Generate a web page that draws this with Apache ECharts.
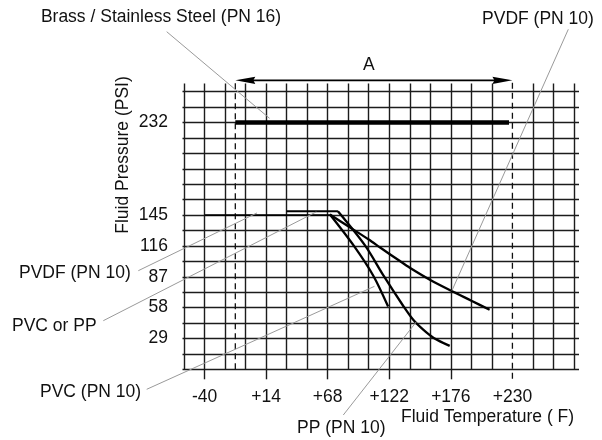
<!DOCTYPE html>
<html><head><meta charset="utf-8">
<script src="https://cdn.jsdelivr.net/npm/echarts@6/dist/echarts.min.js"></script>
<style>html,body{margin:0;padding:0;background:#fff}#c{width:602px;height:440px}</style>
</head><body><div id="c"></div>
<script>
// ---- data ----
const tempTickLabels = [-40, 14, 68, 122, 176, 230];
const tempMajorTicks = [-40, 14, 68, 122, 176];
const pressureTickLabels = [29, 58, 87, 116, 145, 232];
const tempRange = [-58, 284];
const tempStep = 18;
const pressureRange = [0, 261];
const pressureStep = 14.5;
const rangeA = [-13, 230];
const rangeATop = 272;
const rangeAArrow = 271.7;
const brass = [[-13, 232], [227, 232]];
const pvdfFlat = [[-40, 145], [70, 145]];
const pvdfCurve = [[70, 145.5], [86, 134.5], [104, 122], [114, 114.5], [131, 102], [140, 95.5], [158, 84], [176, 74], [194, 64.5], [210, 56]];
const pvcPpFlat = [[32, 148.5], [77, 148.5]];
const ppCurve = [[77, 148.5], [101, 116], [117, 88], [134, 60], [143, 46.5], [152, 37], [161, 29.5], [175, 22]];
const pvcLine = [[70, 145.5], [91, 116], [108, 88], [121, 59]];
const annotationTexts = ['Brass / Stainless Steel (PN 16)', 'PVDF (PN 10)', 'PVDF (PN 10)', 'PVC or PP', 'PVC (PN 10)', 'PP (PN 10)'];
const annotationAnchors = [[17, 236], [177, 74], [6, 147], [58, 148], [109, 78], [146, 45]];

// ---- layout (pixels) ----
const annotationLayout = [
  {tx: 161, ty: 17, align: 'center', lx: 166.7, ly: 31.7},
  {tx: 538, ty: 19, align: 'center', lx: 568.3, ly: 29.3},
  {tx: 19, ty: 273, align: 'left', lx: 138.3, ly: 270.7},
  {tx: 12, ty: 326, align: 'left', lx: 103.3, ly: 320.7},
  {tx: 40, ty: 392, align: 'left', lx: 146.7, ly: 389.3},
  {tx: 297, ty: 428, align: 'left', lx: 343.3, ly: 415}
];
const FONT = '"Liberation Sans", Arial, Helvetica, sans-serif';
const FS = 17.5;
const ink = '#111';
const gridColor = '#1c1c1c';
const leaderColor = '#9a9a9a';

function seq(a, b, s) { const r = []; for (let v = a; v <= b + 1e-9; v += s) r.push(+v.toFixed(4)); return r; }
// vertical grid lines; the dashed limit line replaces the solid one at the same temperature
const tempGrid = seq(tempRange[0], tempRange[1], tempStep).filter(v => rangeA.indexOf(v) < 0);

const chart = echarts.init(document.getElementById('c'));
const gridBase = {bottom: 70.7, outerBoundsMode: 'none', containLabel: false};
const lineSeries = (data, w, extra) => Object.assign({
  type: 'line', data: data, xAxisIndex: 0, yAxisIndex: 0, symbol: 'none', silent: true,
  clip: false, animation: false, z: 5,
  lineStyle: {color: '#000', width: w, cap: 'butt', join: 'round'}
}, extra || {});

chart.setOption({
  animation: false,
  backgroundColor: '#fff',
  grid: [
    Object.assign({left: 184, right: 28, top: 91.7}, gridBase),
    Object.assign({left: 184, right: 28, top: 83.5}, gridBase),
    Object.assign({left: 182.5, right: 23, top: 91.7}, gridBase)
  ],
  xAxis: [
    {gridIndex: 0, type: 'value', min: tempRange[0], max: tempRange[1], interval: tempStep,
     axisLine: {show: false}, splitLine: {show: false},
     axisTick: {show: true, customValues: tempMajorTicks, length: 10, lineStyle: {color: gridColor, width: 1.4}},
     axisLabel: {customValues: tempTickLabels, margin: 19, color: ink, fontSize: FS, fontFamily: FONT,
       formatter: v => (v > 0 ? '+' + v : String(v))}},
    {gridIndex: 1, type: 'value', min: tempRange[0], max: tempRange[1], interval: tempStep,
     axisLine: {show: false}, axisLabel: {show: false},
     axisTick: {show: false, customValues: tempGrid},
     splitLine: {show: true, lineStyle: {color: gridColor, width: 1.4}}},
    {gridIndex: 2, type: 'value', min: 0, max: 1, show: false}
  ],
  yAxis: [
    {gridIndex: 0, type: 'value', min: pressureRange[0], max: pressureRange[1], interval: pressureStep,
     axisLine: {show: false}, axisTick: {show: false}, splitLine: {show: false},
     axisLabel: {customValues: pressureTickLabels, margin: 16, color: ink, fontSize: FS, fontFamily: FONT}},
    {gridIndex: 1, type: 'value', min: 0, max: 1, show: false},
    {gridIndex: 2, type: 'value', min: pressureRange[0], max: pressureRange[1], interval: pressureStep,
     axisLine: {show: false}, axisTick: {show: false}, axisLabel: {show: false},
     splitLine: {show: true, lineStyle: {color: gridColor, width: 1.4}}}
  ],
  series: [
    lineSeries([[rangeA[0], 0], [rangeA[0], rangeATop]], 1.3, {lineStyle: {color: '#111', width: 1.3, type: [6, 4]}}),
    lineSeries([[rangeA[1], -9], [rangeA[1], rangeATop]], 1.3, {lineStyle: {color: '#111', width: 1.3, type: [6, 4]}}),
    lineSeries(brass, 4.6),
    lineSeries(pvdfFlat, 1.8),
    lineSeries(pvdfCurve, 2.3, {smooth: 0.3}),
    lineSeries(pvcPpFlat, 2.0),
    lineSeries(ppCurve, 2.3, {smooth: 0.3}),
    lineSeries(pvcLine, 2.3, {smooth: 0.3})
  ]
});

const px = p => chart.convertToPixel({xAxisIndex: 0, yAxisIndex: 0}, p);
const graphics = [];
const textStyle = (t, align, vAlign) => ({text: t, fill: ink, fontSize: FS, fontFamily: FONT, align: align, verticalAlign: vAlign || 'middle'});
annotationTexts.forEach((t, i) => {
  const L = annotationLayout[i];
  const a = px(annotationAnchors[i]);
  graphics.push({type: 'line', z: 20, silent: true, shape: {x1: L.lx, y1: L.ly, x2: a[0], y2: a[1]}, style: {stroke: leaderColor, lineWidth: 1}});
  graphics.push({type: 'text', z: 21, silent: true, x: L.tx, y: L.ty, style: textStyle(t, L.align)});
});
// range A arrow
const pL = px([rangeA[0], rangeAArrow]), pR = px([rangeA[1], rangeAArrow]);
const headL = 20, headH = 3.6;
graphics.push({type: 'line', z: 20, silent: true, shape: {x1: pL[0] + 10, y1: pL[1], x2: pR[0] - 10, y2: pR[1]}, style: {stroke: '#000', lineWidth: 1.8}});
graphics.push({type: 'polygon', z: 20, silent: true, shape: {points: [[pL[0], pL[1]], [pL[0] + headL, pL[1] - headH], [pL[0] + headL - 2, pL[1]], [pL[0] + headL, pL[1] + headH]]}, style: {fill: '#000'}});
graphics.push({type: 'polygon', z: 20, silent: true, shape: {points: [[pR[0], pR[1]], [pR[0] - headL, pR[1] - headH], [pR[0] - headL + 2, pR[1]], [pR[0] - headL, pR[1] + headH]]}, style: {fill: '#000'}});
graphics.push({type: 'text', z: 21, silent: true, x: (pL[0] + pR[0]) / 2 - 5, y: pL[1] - 15.5, style: textStyle('A', 'center')});
// axis titles
graphics.push({type: 'text', z: 21, silent: true, x: 123.5, y: 155, rotation: Math.PI / 2, style: textStyle('Fluid Pressure (PSI)', 'center')});
graphics.push({type: 'text', z: 21, silent: true, x: 401, y: 417, style: textStyle('Fluid Temperature ( F)', 'left')});
chart.setOption({graphic: graphics});
</script>
</body></html>
